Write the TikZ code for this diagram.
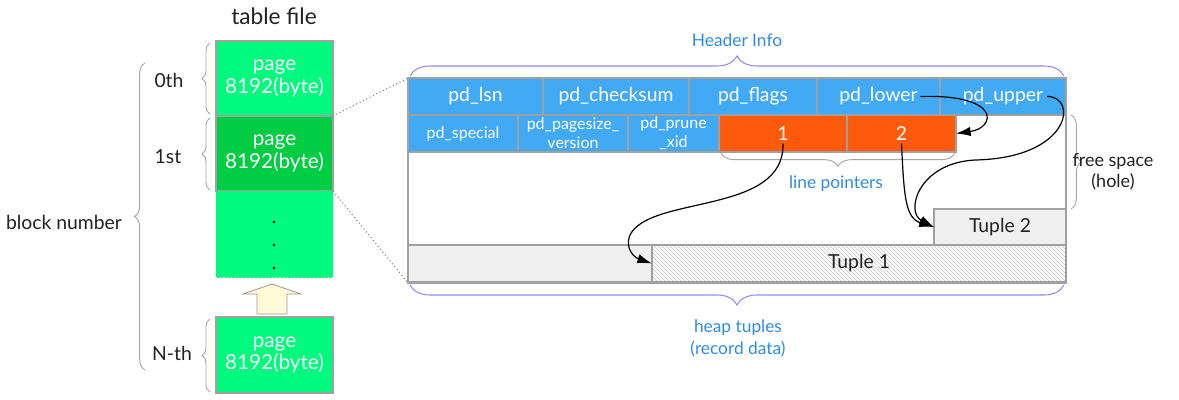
\documentclass[tikz,border=0pt]{standalone}
\usepackage{fontspec}
\setmainfont{Lato}
\usetikzlibrary{patterns,arrows.meta,decorations.pathreplacing,calc}
\definecolor{pgreen}{HTML}{00FA7D}
\definecolor{pgreendk}{HTML}{00CC44}
\definecolor{hblue}{HTML}{42A9F5}
\definecolor{lporange}{HTML}{FF5A0C}
\definecolor{cellgray}{HTML}{A0A0A0}
\definecolor{lbl}{HTML}{2E8BE6}
\definecolor{bracepurple}{HTML}{8E8EF5}
\definecolor{txt}{HTML}{222222}
\definecolor{arrowfill}{HTML}{FFFBD6}
\definecolor{tuplegray}{HTML}{F0F0F0}
\newcommand{\cellbox}[7]{%
  \node[#6, anchor=north west, inner sep=0pt, outer sep=0pt,
        minimum width={(#4-#2)*0.75pt}, minimum height={(#5-#3)*0.75pt}] (#1) at (#2,#3) {#7};
}
\tikzset{
  every node/.style={text=txt},
  cellline/.style={draw=cellgray, line width=0.8pt},
  hdr/.style={cellline, fill=hblue, text=white, font=\fontsize{14.5}{16}\selectfont},
  hdrsm/.style={cellline, fill=hblue, text=white, align=center, font=\fontsize{12}{14}\selectfont},
  lpcell/.style={cellline, fill=lporange, text=white, font=\fontsize{14.5}{16}\selectfont},
  pagebox/.style={draw=cellgray, line width=0.8pt, fill=pgreen, text=white, align=center, font=\fontsize{15.5}{17}\selectfont},
  graybox/.style={cellline, fill=tuplegray, font=\fontsize{14.5}{16}\selectfont},
  hatchbox/.style={cellline, pattern=north west lines, pattern color=gray!45, font=\fontsize{14.5}{16}\selectfont},
  lbltext/.style={text=lbl, align=center, font=\fontsize{13}{16.5}\selectfont},
  darktext/.style={text=txt, align=center, font=\fontsize{14.5}{16}\selectfont},
  brgray/.style={draw=gray!70, line width=0.7pt, decorate},
  brblue/.style={draw=bracepurple, line width=0.8pt, decorate},
  ptr/.style={draw=black, line width=0.9pt, -{Latex[length=11pt,width=7pt]}},
  zoomline/.style={draw=gray, dotted, line width=0.8pt},
}
\begin{document}
\begin{tikzpicture}[x=0.75pt,y=-0.75pt]
\useasboundingbox (0,0) rectangle (1179,400);

% ---------- left: table file ----------
\node[text=txt, font=\fontsize{17}{20}\selectfont] (title) at (274,16) {table file};
\cellbox{p0}{216}{41}{333}{116}{pagebox}{page\\8192(byte)}
\cellbox{p1}{216}{116}{333}{191}{pagebox, fill=pgreendk}{page\\8192(byte)}
\cellbox{pdots}{216}{191}{333}{278}{fill=pgreen}{}
\draw[white, dotted, line width=0.8pt] (pdots.south west) -- (pdots.south east);
\foreach \yy in {222,245,268} \fill[black] (274,\yy) circle (1.3);
\cellbox{pn}{216}{317}{333}{393}{pagebox}{page\\8192(byte)}
\draw[draw=gray!80, fill=arrowfill, line width=0.6pt]
  (272,284) -- (301,294) -- (287,294) -- (287,314) -- (257,314) -- (257,294) -- (243,294) -- cycle;

\draw[brgray, decoration={brace, amplitude=6pt}] (210,114) -- (210,43);
\draw[brgray, decoration={brace, amplitude=6pt}] (210,190) -- (210,118);
\draw[brgray, decoration={brace, amplitude=6pt}] (210,392) -- (210,319);
\draw[brgray, decoration={brace, amplitude=8pt}] (145,370) -- (145,63);
\node[darktext] (l0) at (169,80) {0th};
\node[darktext] (l1) at (168,157) {1st};
\node[darktext] (ln) at (172,353) {N-th};
\node[darktext] (bn) at (64,222) {block number};

% ---------- right: page layout ----------
\cellbox{page}{408}{78}{1066}{283}{cellline, fill=white}{}
\draw[zoomline] (p0.south east) -- (page.north west);
\draw[zoomline] (p1.south east) -- (page.south west);

\cellbox{lsn}{408}{78}{543}{115}{hdr}{pd\_lsn}
\cellbox{chk}{543}{78}{689}{115}{hdr}{pd\_checksum}
\cellbox{flags}{689}{78}{817}{115}{hdr}{pd\_flags}
\cellbox{lower}{817}{78}{940}{115}{hdr}{pd\_lower}
\cellbox{upper}{940}{78}{1066}{115}{hdr}{pd\_upper}

\cellbox{special}{408}{115}{518}{152}{hdrsm}{pd\_special}
\cellbox{psv}{518}{115}{628}{152}{hdrsm}{pd\_pagesize\_\\version}
\cellbox{prune}{628}{115}{719}{152}{hdrsm}{pd\_prune\\\_xid}
\cellbox{lp1}{719}{115}{847}{152}{lpcell}{1}
\cellbox{lp2}{847}{115}{956}{152}{lpcell}{2}

\cellbox{tup2}{934}{209}{1066}{245}{graybox}{Tuple 2}
\cellbox{gapc}{408}{245}{652}{282}{graybox}{}
\cellbox{tup1}{652}{245}{1066}{282}{hatchbox}{Tuple 1}

% braces and labels
\draw[brblue, decoration={brace, amplitude=15pt}] (410,76) -- (1064,76);
\node[lbltext] (hinfo) at (737,40) {Header Info};
\draw[brblue, decoration={brace, amplitude=15pt}] (1064,285) -- (410,285);
\node[lbltext] (heap) at (738,338) {heap tuples\\(record data)};
\draw[brgray, decoration={brace, amplitude=10pt}] (955,153) -- (721,153);
\node[lbltext] (lptxt) at (836,184) {line pointers};
\draw[brgray, decoration={brace, amplitude=8pt}] (1071,115) -- (1071,209);
\node[darktext, font=\fontsize{13.5}{16}\selectfont] (free) at (1113,172) {free space\\(hole)};

% pointers
\draw[ptr] ($(lp1.center)+(0,10)$) .. controls (785,215) and (650,195) .. (630,235)
  .. controls (624,250) and (636,258) .. (tup1.west);
\draw[ptr] ($(lp2.center)+(0,10)$) .. controls (904,195) and (905,218) .. (tup2.west);
\draw[ptr] ($(upper.center)+(44,0)$) .. controls (1078,96) and (1072,158) .. (975,160)
  .. controls (918,163) and (905,212) .. (tup2.west);
\draw[ptr] ($(lower.center)+(42,0)$) .. controls (1002,94) and (996,128) .. (lp2.east);
\end{tikzpicture}
\end{document}
